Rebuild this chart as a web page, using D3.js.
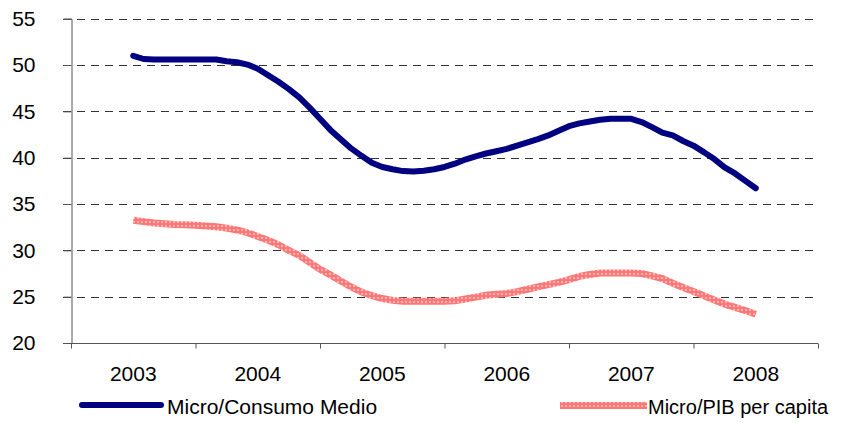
<!DOCTYPE html>
<html>
<head>
<meta charset="utf-8">
<script src="https://cdn.jsdelivr.net/npm/d3@7"></script>
<style>
  body { margin: 0; background: #fff; }
  text { font-family: "Liberation Sans", Arial, sans-serif; fill: #000; }
</style>
</head>
<body>
<svg width="845" height="423"></svg>
<script>
// year labels and monthly values (Jan 2003 .. Jan 2008)
const years = [2003, 2004, 2005, 2006, 2007, 2008];
const consumo = [
  51.0, 50.65, 50.6, 50.6, 50.6, 50.6, 50.6, 50.6, 50.6, 50.4, 50.3, 50.05,
  49.6, 48.9, 48.2, 47.4, 46.5, 45.4, 44.2, 43.0, 42.0, 41.0, 40.2, 39.45,
  39.0, 38.75, 38.55, 38.5, 38.6, 38.75, 39.0, 39.35, 39.8, 40.15, 40.45, 40.7,
  40.95, 41.3, 41.65, 42.0, 42.4, 42.9, 43.4, 43.7, 43.9, 44.1, 44.2, 44.2,
  44.2, 43.85, 43.3, 42.7, 42.4, 41.8, 41.3, 40.6, 39.85, 38.95, 38.3, 37.5,
  36.7
];
const pib = [
  33.25, 33.1, 32.95, 32.88, 32.8, 32.75, 32.7, 32.62, 32.55, 32.4, 32.2, 31.9,
  31.5, 31.1, 30.6, 30.0, 29.45, 28.7, 27.95, 27.35, 26.7, 26.05, 25.5, 25.1,
  24.8, 24.6, 24.5, 24.5, 24.5, 24.5, 24.5, 24.55, 24.75, 24.95, 25.15, 25.25,
  25.35, 25.55, 25.8, 26.05, 26.3, 26.55, 26.85, 27.2, 27.4, 27.55, 27.55, 27.55,
  27.55, 27.5, 27.25, 26.95, 26.45, 26.0, 25.55, 25.1, 24.65, 24.2, 23.85, 23.5,
  23.1
];
const yTicks = [20, 25, 30, 35, 40, 45, 50, 55];
const seriesNames = ["Micro/Consumo Medio", "Micro/PIB per capita"];

const svg = d3.select("svg");

// scales: x in years (each label centred on its year), y in value
const x = d3.scaleLinear().domain([2002.5, 2008.5]).range([71, 818]);
const y = d3.scaleLinear().domain([20, 55]).range([343, 18.7]);

// pink dotted pattern used for the second series
const defs = svg.append("defs");
const pat = defs.append("pattern")
    .attr("id", "pinkdots")
    .attr("patternUnits", "userSpaceOnUse")
    .attr("width", 4).attr("height", 4);
pat.append("rect").attr("width", 4).attr("height", 4).attr("fill", "#ff7878");
pat.append("rect").attr("x", 1).attr("y", 1).attr("width", 2).attr("height", 2).attr("fill", "#ffb4b4");

// dashed gridlines
svg.append("g")
    .selectAll("line")
    .data(yTicks.filter(d => d > 20))
    .enter()
    .append("line")
    .attr("x1", 63).attr("x2", 818)
    .attr("y1", d => Math.round(y(d)) + 0.5)
    .attr("y2", d => Math.round(y(d)) + 0.5)
    .style("stroke", "#333")
    .style("stroke-width", 1)
    .style("stroke-dasharray", "8,6");

// y axis
const yAxis = svg.append("g")
    .attr("transform", "translate(71.5,0)")
    .call(d3.axisLeft(y).tickValues(yTicks).tickSize(8).tickPadding(28));
yAxis.select(".domain").attr("stroke", "#555");
yAxis.selectAll(".tick line").attr("stroke", "#555");
yAxis.selectAll("text").style("font-size", "21px").attr("fill", "#000");

// x axis: ticks on year boundaries, labels at year centres
const xAxis = svg.append("g")
    .attr("transform", "translate(0," + (Math.round(y(20)) + 0.5) + ")")
    .call(d3.axisBottom(x)
        .tickValues(d3.range(2002.5, 2009, 1))
        .tickSize(5)
        .tickFormat(""));
xAxis.select(".domain").attr("stroke", "#555").attr("d", "M63,0H818");
xAxis.selectAll(".tick line").attr("stroke", "#555");

svg.append("g")
    .selectAll("text")
    .data(years)
    .enter()
    .append("text")
    .attr("x", d => x(d))
    .attr("y", 381)
    .attr("text-anchor", "middle")
    .style("font-size", "21px")
    .text(d => d);

// lines
const line = d3.line()
    .x((d, i) => x(2003 + i / 12))
    .y(d => y(d));

svg.append("path")
    .datum(pib)
    .attr("d", line)
    .attr("fill", "none")
    .attr("stroke", "url(#pinkdots)")
    .attr("stroke-width", 7);

svg.append("path")
    .datum(consumo)
    .attr("d", line)
    .attr("fill", "none")
    .attr("stroke", "#000080")
    .attr("stroke-width", 6)
    .attr("stroke-linecap", "round")
    .attr("stroke-linejoin", "round");

// legend
svg.append("line")
    .attr("x1", 82).attr("x2", 161)
    .attr("y1", 405).attr("y2", 405)
    .attr("stroke", "#000080")
    .attr("stroke-width", 6)
    .attr("stroke-linecap", "round");
svg.append("text")
    .attr("x", 167).attr("y", 414)
    .style("font-size", "21px")
    .text(seriesNames[0]);

svg.append("rect")
    .attr("x", 560).attr("y", 402)
    .attr("width", 87).attr("height", 7)
    .attr("fill", "url(#pinkdots)");
svg.append("text")
    .attr("x", 648).attr("y", 414)
    .style("font-size", "20px")
    .text(seriesNames[1]);
</script>
</body>
</html>
